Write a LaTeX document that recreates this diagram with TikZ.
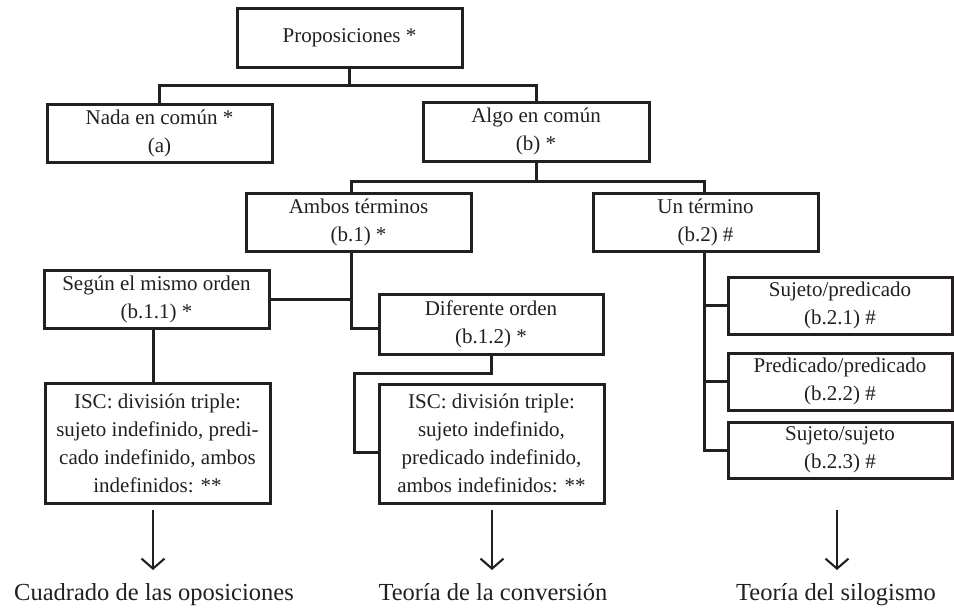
\documentclass[tikz,border=0pt]{standalone}
\usepackage{fontspec}
\setmainfont{Liberation Serif}
\usetikzlibrary{arrows.meta}
\definecolor{ink}{HTML}{231F20}
\begin{document}
\begin{tikzpicture}[x=1pt,y=-1pt,
  box/.style={draw=ink, line width=3pt, rectangle, inner sep=0pt, align=center,
    text=ink, font=\fontsize{21}{28}\selectfont},
  conn/.style={draw=ink, line width=3pt},
  arr/.style={draw=ink, line width=2.1pt, -{Straight Barb[length=10pt,width=23pt,line width=2.1pt]}},
  lab/.style={text=ink, font=\fontsize{24.5}{30}\selectfont, inner sep=0pt, anchor=base}]
\useasboundingbox (0,0) rectangle (954,614);

% boxes
\node[box, minimum width=225, minimum height=59] (prop)  at (349.5,37.5) {Proposiciones *};
\node[box, minimum width=225, minimum height=58] (nada)  at (159.5,133)  {Nada en común *\\(a)};
\node[box, minimum width=226, minimum height=59] (algo)  at (536,131.5)  {Algo en común\\(b) *};
\node[box, minimum width=225, minimum height=58] (ambos) at (358.5,222)  {Ambos términos\\(b.1) *};
\node[box, minimum width=225, minimum height=58] (un)    at (705.5,222)  {Un término\\(b.2) \#};
\node[box, minimum width=225, minimum height=58] (segun) at (156.5,299)  {Según el mismo orden\\(b.1.1) *};
\node[box, minimum width=224, minimum height=60] (dif)   at (491,324)    {Diferente orden\\(b.1.2) *};
\node[box, minimum width=225, minimum height=120] (isc1) at (157.5,443)  {ISC: división triple:\\sujeto indefinido, predi-\\cado indefinido, ambos\\indefinidos: **};
\node[box, minimum width=225, minimum height=119] (isc2) at (491.5,443.5) {ISC: división triple:\\sujeto indefinido,\\predicado indefinido,\\ambos indefinidos: **};
\node[box, minimum width=224, minimum height=57] (sp)    at (840,305.5)  {Sujeto/predicado\\(b.2.1) \#};
\node[box, minimum width=224, minimum height=57] (pp)    at (840,381.5)  {Predicado/predicado\\(b.2.2) \#};
\node[box, minimum width=224, minimum height=56] (ss)    at (840,450)    {Sujeto/sujeto\\(b.2.3) \#};

% labels
\node[lab] (l1) at (154,600) {Cuadrado de las oposiciones};
\node[lab] (l2) at (493,600) {Teoría de la conversión};
\node[lab] (l3) at (836,600) {Teoría del silogismo};

% helper coordinates
\coordinate (j1) at (349.5,85);
\coordinate (j2) at (536,181);
\coordinate (tA) at (351,181);
\coordinate (tU) at (704,181);
\coordinate (tS) at (153,0);
\coordinate (k1) at (354,373);

% connectors
\draw[conn] (prop.south) -- (j1);
\draw[conn] (nada.north) |- (j1) -| (algo.north);
\draw[conn] (algo.south) -- (j2);
\draw[conn] (ambos.north -| tA) -- (tA) -- (tU) -- (un.north -| tU);
\draw[conn] (ambos.south -| tA) |- ([yshift=-4pt]dif.west);
\draw[conn] (segun.east) -- (segun.east -| tA);
\draw[conn] (segun.south -| tS) -- (isc1.north -| tS);
\draw[conn] (dif.south) |- (k1) |- ([yshift=-8.5pt]isc2.west);
\draw[conn] (un.south -| tU) |- (ss.west);
\draw[conn] (sp.west) -- (sp.west -| tU);
\draw[conn] (pp.west) -- (pp.west -| tU);

% arrows
\coordinate (a1s) at (153,510); \coordinate (a1e) at (153,570);
\coordinate (a2s) at (492,510); \coordinate (a2e) at (492,570);
\coordinate (a3s) at (837,510); \coordinate (a3e) at (837,570);
\draw[arr] (a1s) -- (a1e);
\draw[arr] (a2s) -- (a2e);
\draw[arr] (a3s) -- (a3e);
\end{tikzpicture}
\end{document}
